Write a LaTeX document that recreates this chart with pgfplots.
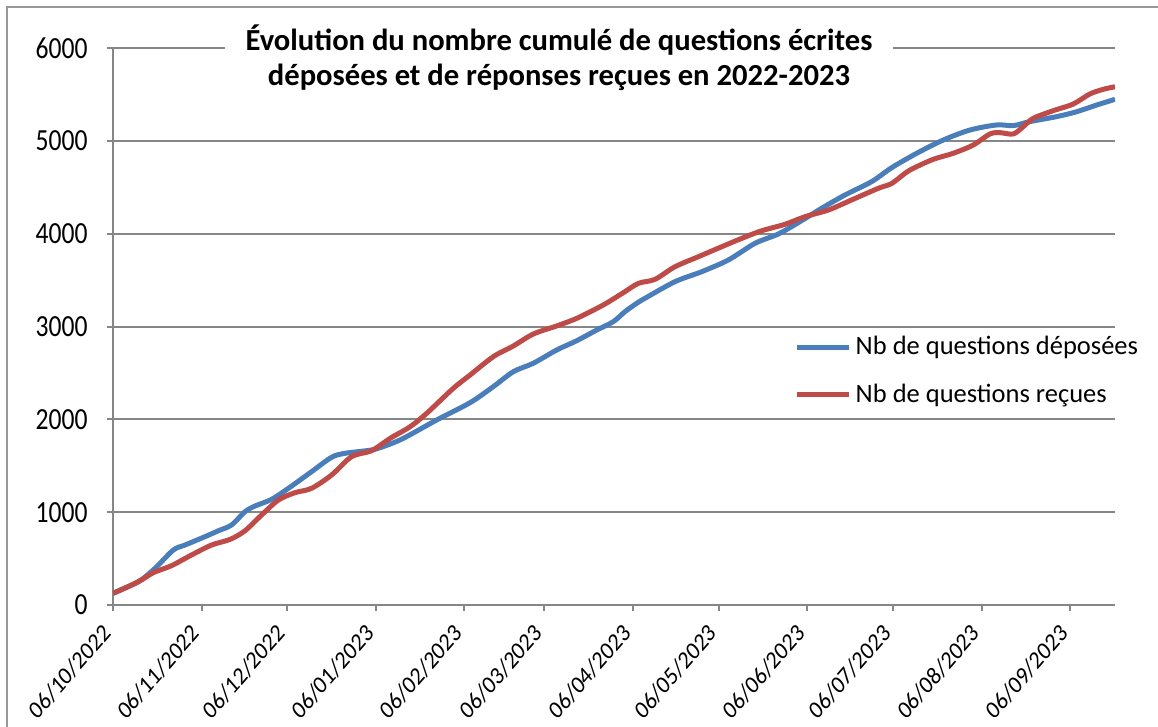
\documentclass[border=0pt]{standalone}
\usepackage{fontspec}
\setmainfont{Carlito}
\usepackage{graphicx}
\usepackage{pgfplots}
\pgfplotsset{compat=1.18}
\definecolor{cblue}{HTML}{4A7EBB}
\definecolor{cred}{HTML}{BE4B48}
\definecolor{cgrid}{HTML}{868686}
\newcommand{\xl}[1]{\scalebox{1}[1.15]{\rotatebox{45}{#1}}}
\newcommand{\yl}[1]{\scalebox{1}[1.2]{#1}}
\begin{document}
\begin{tikzpicture}
\useasboundingbox (0,0) rectangle (579bp,363.5bp);
\draw[color=cgrid!85, line width=1bp] (3.5bp,0) -- (3.5bp,360bp) -- (579bp,360bp);
\begin{axis}[
  at={(56.5bp,61bp)}, anchor=south west,
  scale only axis, width=501bp, height=278.5bp,
  xmin=0, xmax=350.7, ymin=0, ymax=6000,
  axis lines*=left,
  axis line style={cgrid, line width=1bp},
  ymajorgrids, grid style={cgrid, line width=1bp},
  tick style={cgrid, line width=1bp},
  major tick length=3bp, tick align=outside,
  ytick={0,1000,2000,3000,4000,5000,6000},
  yticklabels={\yl{0},\yl{1000},\yl{2000},\yl{3000},\yl{4000},\yl{5000},\yl{6000}},
  xtick={0,31,61,92,123,151,182,212,243,273,304,335},
  xticklabels={\xl{06/10/2022},\xl{06/11/2022},\xl{06/12/2022},\xl{06/01/2023},\xl{06/02/2023},\xl{06/03/2023},\xl{06/04/2023},\xl{06/05/2023},\xl{06/06/2023},\xl{06/07/2023},\xl{06/08/2023},\xl{06/09/2023}},
  xticklabel style={font=\fontsize{10.9bp}{13bp}\selectfont, anchor=north east, inner sep=0pt, xshift=0bp, yshift=-5.5bp},
  yticklabel style={font=\fontsize{12.8bp}{14bp}\selectfont, anchor=east, inner sep=0pt, xshift=-9.5bp},
  legend style={at={(0.676,0.497)}, anchor=north west, draw=none, fill=white,
    font=\fontsize{13.25bp}{16bp}\selectfont, row sep=9bp, inner xsep=2bp, inner ysep=2bp},
  legend cell align=left,
  legend image code/.code={\draw[#1] (0bp,0bp) -- (26bp,0bp);},
]
\addplot[cblue, line width=2.5bp, smooth] coordinates {
(0,126)(8.9,251)(14.7,395)(21.1,592)(25.2,646)(32.2,736)(36.9,800)(41.5,862)
(46.2,1005)(49.7,1066)(55.5,1138)(61.4,1257)(69.5,1436)(76.5,1591)(81.2,1634)
(90.5,1670)(95.2,1713)(101.6,1795)(113.3,1993)(125,2180)(133.1,2352)(140.1,2513)
(147.1,2604)(155.3,2747)(162.3,2847)(169.3,2962)(175.1,3052)(179.2,3160)(183.3,3250)
(186.2,3304)(196.7,3483)(206.1,3591)(215.4,3717)(224.7,3896)(232.9,3997)(241,4140)
(248,4273)(256.2,4417)(265.5,4560)(272.5,4710)(281.3,4866)(290.6,5009)(300,5117)
(309.3,5171)(315.1,5164)(320.9,5207)(330.3,5261)(337.3,5314)(344.3,5386)(350.7,5447)
};
\addlegendentry{Nb de questions déposées}
\addplot[cred, line width=2.5bp, smooth] coordinates {
(0,126)(8.9,251)(14.1,348)(20.5,424)(27.5,539)(34.5,646)(41,707)(46.2,800)(52,969)
(57.9,1131)(63.7,1210)(69.5,1257)(76.5,1400)(83.5,1598)(90.5,1662)(97,1795)(104,1921)
(109.8,2065)(119.1,2334)(125,2478)(133.1,2675)(140.1,2790)(147.1,2919)(155.3,3006)
(162.3,3088)(171.6,3232)(178.6,3364)(183.9,3465)(189.7,3508)(196.7,3644)(204.9,3752)
(213.1,3860)(220.1,3950)(227.1,4032)(235.2,4101)(242.2,4183)(250.4,4255)(258.5,4363)
(267.9,4489)(272.5,4540)(277.2,4650)(280.1,4704)(287.1,4801)(294.1,4866)(301.1,4955)
(306.9,5074)(310.4,5088)(315.1,5074)(318.6,5153)(322.1,5243)(329.1,5325)(336.1,5397)
(341.9,5505)(346.6,5555)(350.7,5583)
};
\addlegendentry{Nb de questions reçues}
\end{axis}
\node[fill=white, minimum width=334bp, align=center, inner ysep=3bp,
  font=\bfseries\fontsize{15.3bp}{17.5bp}\selectfont] at (279.5bp,334.75bp)
  {Évolution du nombre cumulé de questions écrites\\déposées et de réponses reçues en 2022-2023};
\end{tikzpicture}
\end{document}
